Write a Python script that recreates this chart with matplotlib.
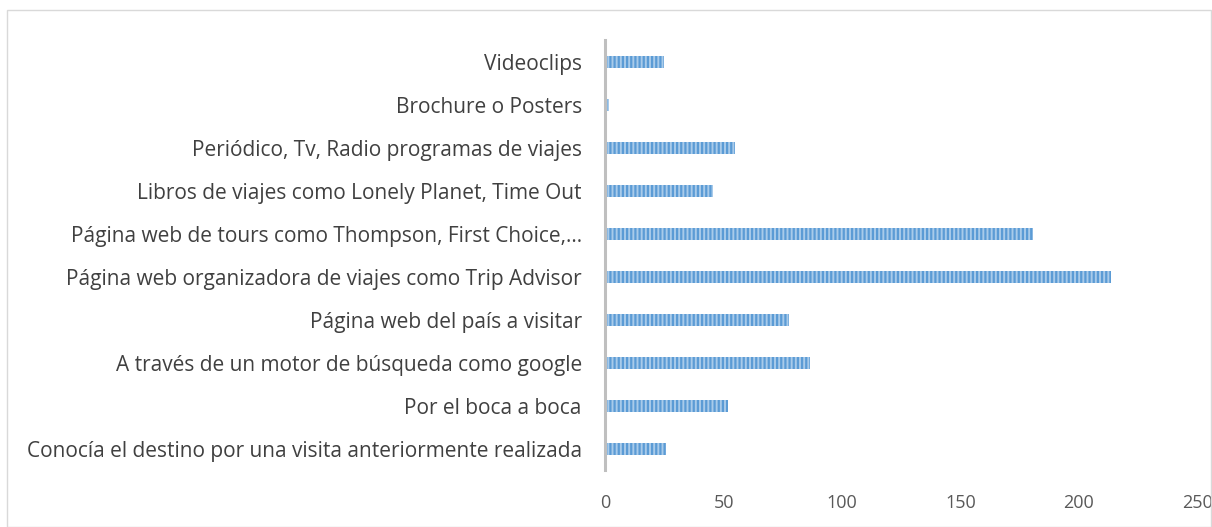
import matplotlib.pyplot as plt
from matplotlib.patches import Rectangle

categories = [
    "Conocía el destino por una visita anteriormente realizada",
    "Por el boca a boca",
    "A través de un motor de búsqueda como google",
    "Página web del país a visitar",
    "Página web organizadora de viajes como Trip Advisor",
    "Página web de tours como Thompson, First Choice,…",
    "Libros de viajes como Lonely Planet, Time Out",
    "Periódico, Tv, Radio programas de viajes",
    "Brochure o Posters",
    "Videoclips",
]
values = [25, 51, 86, 77, 213, 180, 45, 54, 1, 24]
x_ticks = [0, 50, 100, 150, 200, 250]

plt.rcParams["font.family"] = ["Open Sans", "DejaVu Sans"]
plt.rcParams["hatch.linewidth"] = 1.6

fig = plt.figure(figsize=(12.12, 5.27), dpi=100)
ax = fig.add_axes([0.4995, 0.108, 0.4882, 0.816])

# bars sit just right of the axis line, drawn above it so tiny values still show
ax.barh(range(len(categories)), values, height=0.28, left=0.6, color="#A9CBEA",
        edgecolor="#5B9BD5", linewidth=0, hatch="||||", zorder=3)

ax.set_xlim(0, 250)
ax.set_ylim(-0.5, len(categories) - 0.5)
ax.set_xticks(x_ticks)
ax.set_yticks(range(len(categories)))
ax.set_yticklabels(categories)

for side in ("top", "right", "bottom"):
    ax.spines[side].set_visible(False)
ax.spines["left"].set_color("#BFBFBF")
ax.spines["left"].set_linewidth(2.2)

ax.tick_params(axis="y", length=0, pad=17, labelsize=15, labelcolor="#404040")
ax.tick_params(axis="x", length=0, pad=17, labelsize=13, labelcolor="#595959")

# outer chart border
fig.patches.append(Rectangle((7 / 1212, 0), 1 - 8 / 1212, 1 - 10 / 527,
                             transform=fig.transFigure, fill=False,
                             edgecolor="#D9D9D9", linewidth=1))

fig.savefig("out.png", dpi=100)
